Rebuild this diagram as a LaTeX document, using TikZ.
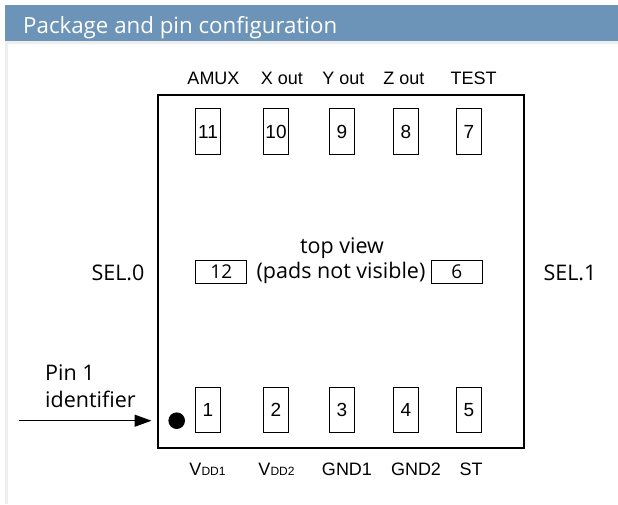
\documentclass[tikz,border=0pt]{standalone}
\usepackage{fontspec}
\setmainfont{Liberation Sans}
\newfontfamily\widefont{Open Sans}
\usetikzlibrary{arrows.meta,positioning,calc}
\definecolor{headblue}{RGB}{108,148,184}
\definecolor{edgegray}{RGB}{238,238,238}
\newcommand{\vdd}[1]{V{\fontsize{12}{12}\selectfont DD#1}}

\begin{document}
\begin{tikzpicture}[
      x=1pt,y=-1pt,
      pad/.style = {rectangle,draw,line width=1pt,minimum width=24.5pt,minimum height=45.4pt,inner sep=0,text centered,font=\fontsize{19}{19}\selectfont},
      sidepad/.style = {rectangle,draw,line width=1pt,minimum width=51pt,minimum height=23.3pt,inner sep=0,text centered,font=\widefont\fontsize{19}{19}\selectfont},
      pinname/.style = {anchor=base,inner sep=0,font=\fontsize{18}{18}\selectfont},
      note/.style = {inner sep=0,font=\widefont\fontsize{21.5}{21.5}\selectfont},
      arrow/.style = {-{Triangle[length=17pt,width=12pt]},line width=1.3pt}
      ]
      \useasboundingbox (0,0) rectangle (618,504);
      \fill[headblue] (5,5) rectangle (618,41);
      \fill[edgegray] (5,41) rectangle (618,44);
      \fill[edgegray] (5,41) rectangle (8,504);
      \node (title)[anchor=base west,inner sep=0,text=white,font=\widefont\fontsize{22.3}{22.3}\selectfont] at (23,33.5) {Package and pin configuration};

      \node (chip)[draw,line width=1.3pt,minimum width=366pt,minimum height=353pt] at (341,271.5) {};

      \node (p11)[pad] at (208,131.5) {11};
      \node (p10)[pad] at (276,131.5) {10};
      \node (p9)[pad] at (342,131.5) {9};
      \node (p8)[pad] at (406,131.5) {8};
      \node (p7)[pad] at (469,131.5) {7};
      \node (p1)[pad] at (208,410) {1};
      \node (p2)[pad] at (276,410) {2};
      \node (p3)[pad] at (342,410) {3};
      \node (p4)[pad] at (406,410) {4};
      \node (p5)[pad] at (469,410) {5};
      \node (p12)[sidepad] at (221.3,271.7) {12};
      \node (p6)[sidepad] at (456.7,271.7) {6};

      \node (amux)[pinname] at (213.5,84.5) {AMUX};
      \node (xout)[pinname] at (282,84.5) {X out};
      \node (yout)[pinname] at (343.5,84.5) {Y out};
      \node (zout)[pinname] at (404,84.5) {Z out};
      \node (test)[pinname] at (473.5,84.5) {TEST};
      \node (vdda)[pinname] at (207.5,475.5) {\vdd{1}};
      \node (vddb)[pinname] at (276.5,475.5) {\vdd{2}};
      \node (gnda)[pinname] at (347,475.5) {GND1};
      \node (gndb)[pinname] at (416,475.5) {GND2};
      \node (st)[pinname] at (471,475.5) {ST};

      \node (topview)[note] at (342,248) {top view};
      \node (padsnote)[note] at (341,273) {(pads not visible)};
      \node (selzero)[note] at (118,273) {SEL.0};
      \node (selone)[note] at (570,273) {SEL.1};
      \node (pinone)[note,anchor=base west] at (45,380) {Pin 1};
      \node (identifier)[note,anchor=base west] at (45,407) {identifier};

      \node (dot)[circle,fill,minimum size=16.6pt,inner sep=0] at (176.7,420.7) {};
      \coordinate (arrowtail) at (19,420.7);
      \path (arrowtail) edge[arrow,shorten >=16.7pt] (dot);
    \end{tikzpicture}
\end{document}
